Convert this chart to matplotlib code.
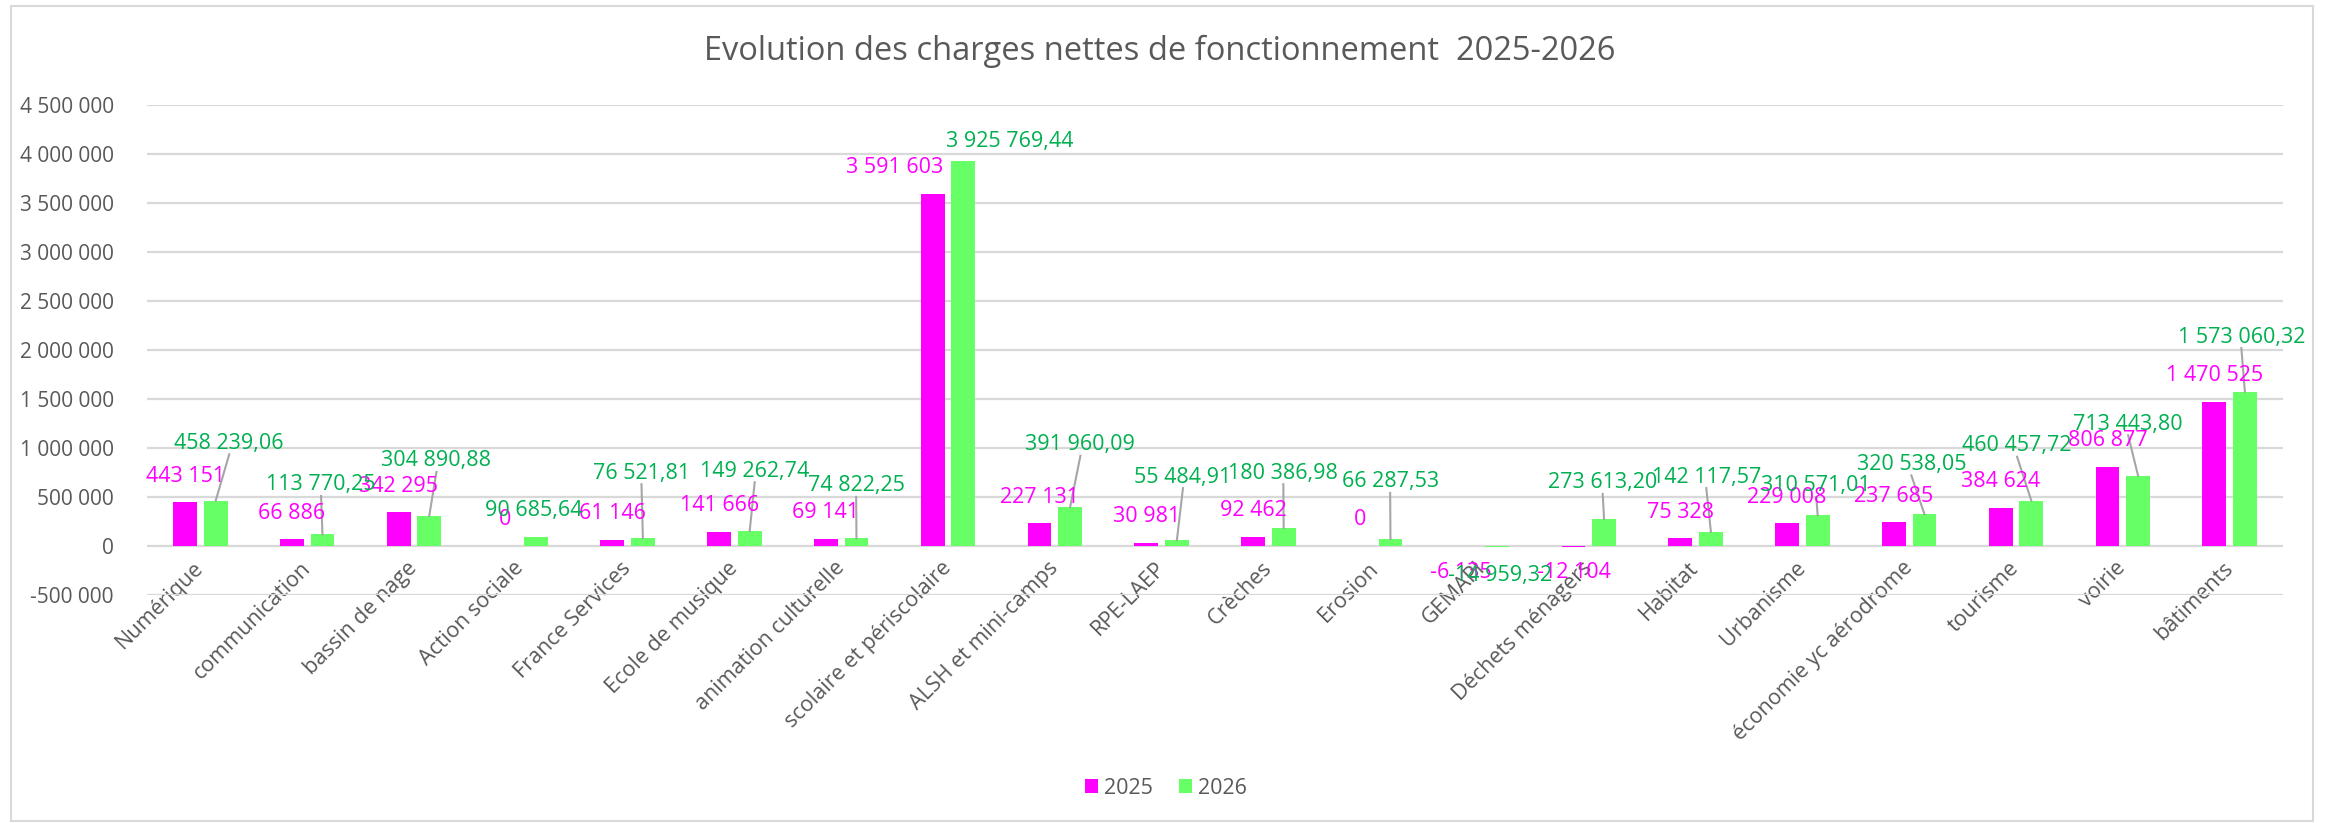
import numpy as np
import matplotlib
matplotlib.use("Agg")
import matplotlib.pyplot as plt
from matplotlib.patches import Rectangle

plt.rcParams['font.family'] = ['Open Sans', 'DejaVu Sans']

# ---------------- data ----------------
categories = ["Numérique", "communication", "bassin de nage", "Action sociale",
              "France Services", "Ecole de musique", "animation culturelle",
              "scolaire et périscolaire", "ALSH et mini-camps", "RPE-LAEP",
              "Crèches", "Erosion", "GEMAPI", "Déchets ménagers", "Habitat",
              "Urbanisme", "économie yc aérodrome", "tourisme", "voirie", "bâtiments"]
values_2025 = [443151, 66886, 342295, 0, 61146, 141666, 69141, 3591603, 227131, 30981,
               92462, 0, -6135, -12104, 75328, 229008, 237685, 384624, 806877, 1470525]
values_2026 = [458239.06, 113770.25, 304890.88, 90685.64, 76521.81, 149262.74, 74822.25,
               3925769.44, 391960.09, 55484.91, 180386.98, 66287.53, -14959.32, 273613.20,
               142117.57, 310571.01, 320538.05, 460457.72, 713443.80, 1573060.32]
series_names = ["2025", "2026"]
yticks = list(range(-500000, 4500001, 500000))

# ---------------- layout (label placement, moved by hand in the original) ----------------
# 2025 labels: horizontal shift (category units) from default position
shift_2025 = [0, 0, 0, 0, 0, 0, 0, -0.36, 0, 0, 0, 0, -0.06, 0, 0, 0, 0, 0, 0, 0]
# 2026 labels: (dx from category centre, y centre in data units)
pos_2026_dx = [0.27, 0.13, 0.21, 0.12, 0.13, 0.19, 0.14, 0.58, 0.24, 0.20,
               0.14, 0.14, 0.17, 0.13, 0.10, 0.13, 0.02, 0.01, 0.05, 0.11]
pos_2026_y = [1045000, 620000, 865000, 354000, 740000, 760000, 610000, 4130000, 1030000, 700000,
              740000, 650000, -300000, 640000, 700000, 610000, 830000, 1020000, 1240000, 2130000]

C25 = "#FF00FF"
C26 = "#66FF66"
T25 = "#FF00FF"
T26 = "#00B050"
GRAY = "#595959"

W, H = 2331, 823
fig = plt.figure(figsize=(W / 100, H / 100), dpi=100)

x0, x1 = 147, 2283
ytop, ybot = 105, 594.6
ax = fig.add_axes([x0 / W, 1 - ybot / H, (x1 - x0) / W, (ybot - ytop) / H])

x = np.arange(len(categories))
bw = 0.224
off = 0.143
ax.bar(x - off, values_2025, width=bw, color=C25, label=series_names[0], zorder=3)
ax.bar(x + off, values_2026, width=bw, color=C26, label=series_names[1], zorder=3)

ax.set_xlim(-0.5, len(categories) - 0.5)
ax.set_ylim(-500000, 4500000)
ax.set_yticks(yticks)
ax.set_yticklabels([f"{v:,.0f}".replace(",", " ") for v in yticks], color=GRAY, fontsize=15)
ax.yaxis.grid(True, color="#D9D9D9", lw=1.6, zorder=0)
ax.set_axisbelow(True)
for s in ax.spines.values():
    s.set_visible(False)
ax.spines['bottom'].set_position(('data', 0))
ax.tick_params(axis='both', length=0)
ax.tick_params(axis='y', pad=24)
ax.set_xticks(x)
ax.set_xticklabels(categories, rotation=45, ha='right', va='center', rotation_mode='anchor',
                   color=GRAY, fontsize=15.5)
ax.tick_params(axis='x', pad=14)

LFS = 15.5
def fmt25(v):
    return f"{v:,.0f}".replace(",", " ")

def fmt26(v):
    return f"{v:,.2f}".replace(",", " ").replace(".", ",")

# default label offset in data units (~25 px)
dpu = (ybot - ytop) / 5000000.0  # px per unit
def_off = 26 / dpu
half_h = 11 / dpu

for i, v in enumerate(values_2025):
    yy = v + def_off if v >= 0 else v - def_off
    ax.text(i - off + shift_2025[i], yy, fmt25(v), color=T25, fontsize=LFS,
            ha='center', va='center', zorder=5)

for i, v in enumerate(values_2026):
    lx = i + pos_2026_dx[i]
    ly = pos_2026_y[i]
    ax.text(lx, ly, fmt26(v), color=T26, fontsize=LFS, ha='center', va='center', zorder=5)
    if v > 0 and (ly - half_h - v) > 170000:
        ax.plot([lx, i + off], [ly - half_h, v], color="#A6A6A6", lw=1.5, zorder=4)

fig.text(1160 / W, 1 - 51 / H, "Evolution des charges nettes de fonctionnement  2025-2026",
         ha='center', va='center', fontsize=23.5, color=GRAY)

fig.legend(loc='center', bbox_to_anchor=(1166 / W, 1 - 788 / H), ncol=2, frameon=False,
           fontsize=15.5, labelcolor=GRAY, handlelength=0.6, handleheight=0.6,
           handletextpad=0.3, columnspacing=1.2)

fig.patches.append(Rectangle((11 / W, 1 - 821 / H), (2313 - 11) / W, (821 - 6) / H,
                             transform=fig.transFigure, fill=False, ec="#D9D9D9", lw=1.5))

fig.savefig("out.png", dpi=100, facecolor="white")
